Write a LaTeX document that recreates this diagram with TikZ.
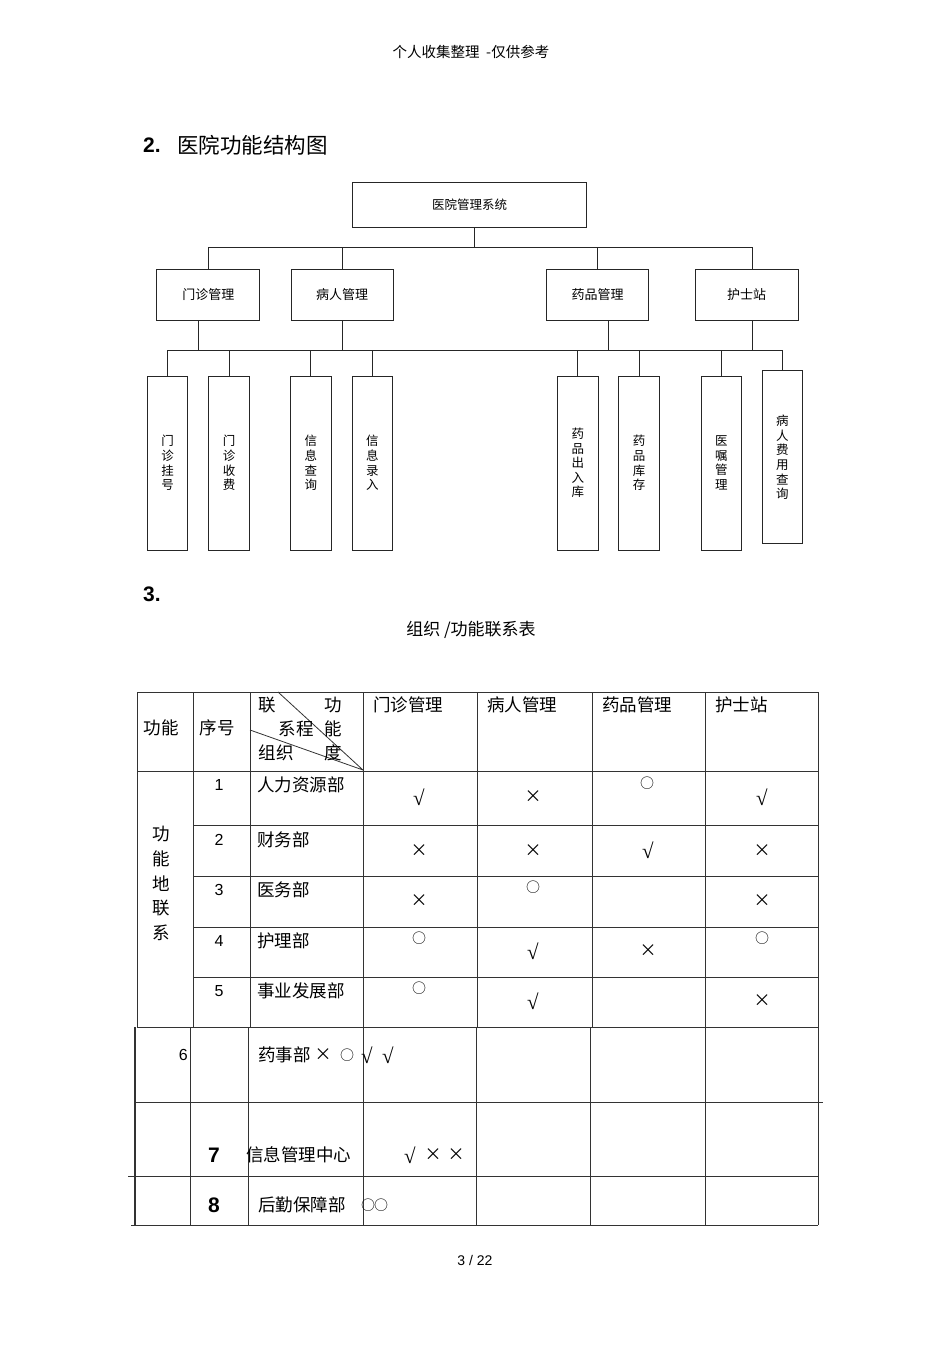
\documentclass[tikz,border=0pt]{standalone}
\usepackage{fontspec}
\setmainfont{Noto Sans CJK SC}
\newfontfamily\arial{Liberation Sans}
\newfontfamily\tnr{Liberation Serif}
\newcommand{\fs}[2]{\fontsize{#1}{#2}\selectfont}
\newcommand{\symok}{{\tnr\fs{21}{20}√}}
\newcommand{\symno}{{\fs{17}{20}×}}
\newcommand{\symoo}{{\fs{14}{20}○}}
\tikzset{
  box/.style={draw=black!85,line width=1pt,inner sep=0pt,font=\fs{12.5}{15}},
  leaf/.style={box,minimum width=40.5pt,align=center,font=\fs{12.5}{14.6}},
  link/.style={draw=black!85,line width=1pt},
  grid/.style={draw=black!80,line width=0.8pt},
  cell/.style={inner sep=0pt,font=\fs{17.5}{20}},
  sym/.style={inner sep=0pt},
  num/.style={inner sep=0pt,font=\arial\fs{16}{18}}
}
\begin{document}
\begin{tikzpicture}[x=1pt,y=-1pt]
\useasboundingbox[fill=white] (0,0) rectangle (950,1345);
\node[inner sep=0pt,font=\fs{14.5}{16}] (hdr) at (471,52) {个人收集整理\ \ -仅供参考};
\node[anchor=west,inner sep=0pt,font=\arial\bfseries\fs{21}{24}] (sec2) at (143,145) {2.};
\node[anchor=west,inner sep=0pt,font=\fs{21.5}{24}] (title2) at (177,145) {医院功能结构图};
\node[box,minimum width=234pt,minimum height=45pt] (root) at (469.5,204.5) {医院管理系统};
\node[box,minimum width=103pt,minimum height=51pt,font=\fs{13}{15}] (mz) at (208.3,294.5) {门诊管理};
\node[box,minimum width=102pt,minimum height=51pt,font=\fs{13}{15}] (br) at (342,294.5) {病人管理};
\node[box,minimum width=102pt,minimum height=51pt,font=\fs{13}{15}] (yp) at (597.6,294.5) {药品管理};
\node[box,minimum width=103pt,minimum height=51pt,font=\fs{13}{15}] (hs) at (746.5,294.5) {护士站};
\coordinate (bus1l) at (208.3,247);
\coordinate (bus1r) at (752.5,247);
\coordinate (bus2l) at (167.6,350);
\coordinate (bus2r) at (782.4,350);
\foreach \x/\y/\h/\t [count=\i] in {167.6/463/174/{门\\诊\\挂\\号},229.2/463/174/{门\\诊\\收\\费},
  310.9/463/174/{信\\息\\查\\询},372.3/463/174/{信\\息\\录\\入},577.9/463/174/{药\\品\\出\\入\\库},
  639/463/174/{药\\品\\库\\存},721.3/463/174/{医\\嘱\\管\\理},782.4/457.4/173/{病\\人\\费\\用\\查\\询}}
  \node[leaf,minimum height=\h pt] (l\i) at (\x,\y) {\t};
\draw[link] ([xshift=5pt]root.south) -- ([xshift=5pt]root.south |- bus1l);
\draw[link] (bus1l) -- (bus1r);
\draw[link] (mz.north) -- (mz.north |- bus1l);
\draw[link] (br.north) -- (br.north |- bus1l);
\draw[link] (yp.north) -- (yp.north |- bus1l);
\draw[link] ([xshift=6pt]hs.north) -- ([xshift=6pt]hs.north |- bus1l);
\draw[link] (bus2l) -- (bus2r);
\draw[link] ([xshift=-10pt]mz.south) -- ([xshift=-10pt]mz.south |- bus2l);
\draw[link] (br.south) -- (br.south |- bus2l);
\draw[link] ([xshift=11pt]yp.south) -- ([xshift=11pt]yp.south |- bus2l);
\draw[link] ([xshift=6pt]hs.south) -- ([xshift=6pt]hs.south |- bus2l);
\foreach \i in {1,...,8}
  \draw[link] (l\i.north) -- (l\i.north |- bus2l);
\node[anchor=west,inner sep=0pt,font=\arial\bfseries\fs{21}{24}] (sec3) at (143,594) {3.};
\node[inner sep=0pt,font=\fs{17}{20}] (caption) at (471,630) {组织 /功能联系表};
\foreach \x in {137,193,250,363,477,592,705,818}
  \draw[grid] (\x,692) -- (\x,1027);
\foreach \y in {692,771,1027}
  \draw[grid] (137,\y) -- (818,\y);
\foreach \y in {825,876,927,977}
  \draw[grid] (193,\y) -- (818,\y);
\draw[grid] (278,692) -- (363,770) (250,730) -- (363,770);
\draw[grid,line width=1.8pt] (135,1027) -- (135,1225);
\foreach \x in {190,248,363,476,590,705,818}
  \draw[grid] (\x,1027) -- (\x,1225);
\draw[grid] (135,1102) -- (823,1102) (128,1176) -- (818,1176) (131,1225) -- (818,1225);
\node[cell] (hgn) at (161,728) {功能};
\node[cell] (hxh) at (217,728) {序号};
\node[cell] (dg1) at (267,705) {联};
\node[cell] (dg2) at (333,705) {功};
\node[cell] (dg3) at (296,729) {系程};
\node[cell] (dg4) at (333,729) {能};
\node[cell] (dg5) at (276,753) {组织};
\node[cell] (dg6) at (333,753) {度};
\foreach \x/\t [count=\i] in {373/门诊管理,487/病人管理,602/药品管理,715/护士站}
  \node[cell,anchor=west] (col\i) at (\x,705) {\t};
\node[cell,align=center,font=\fs{17.5}{24.8}] (side) at (161,883.5) {功\\能\\地\\联\\系};
\foreach \y/\t [count=\i] in {785/人力资源部,840/财务部,890/医务部,941/护理部,991/事业发展部}{
  \node[num] (no\i) at (219,\y) {\i};
  \node[cell,anchor=west] (org\i) at (257,\y) {\t};
}
\foreach \x/\y/\s [count=\i] in {419/797/\symok,533/797/\symno,647/783/\symoo,762/797/\symok,
  419/851/\symno,533/851/\symno,648/850/\symok,762/851/\symno,
  419/901/\symno,533/887/\symoo,762/901/\symno,
  419/938/\symoo,533/951/\symok,648/951/\symno,762/938/\symoo,
  419/988/\symoo,533/1001/\symok,762/1001/\symno,
  323/1055/\symno,347/1055/\symoo,367/1055/\symok,388/1055/\symok,
  410/1155/\symok,433/1155/\symno,456/1155/\symno,
  368/1205/\symoo,381/1205/\symoo}
  \node[sym] (m\i) at (\x,\y) {\s};
\node[num,anchor=east] (no6) at (188,1055) {6};
\node[cell,anchor=west] (org6) at (258,1055) {药事部};
\node[num,font=\arial\bfseries\fs{21}{24}] (no7) at (214,1155) {7};
\node[cell,anchor=west] (org7) at (246,1155) {信息管理中心};
\node[num,font=\arial\bfseries\fs{21}{24}] (no8) at (214,1205) {8};
\node[cell,anchor=west] (org8) at (258,1205) {后勤保障部};
\node[inner sep=0pt,font=\arial\fs{14}{16}] (footer) at (475,1260) {3 / 22};
\end{tikzpicture}
\end{document}
